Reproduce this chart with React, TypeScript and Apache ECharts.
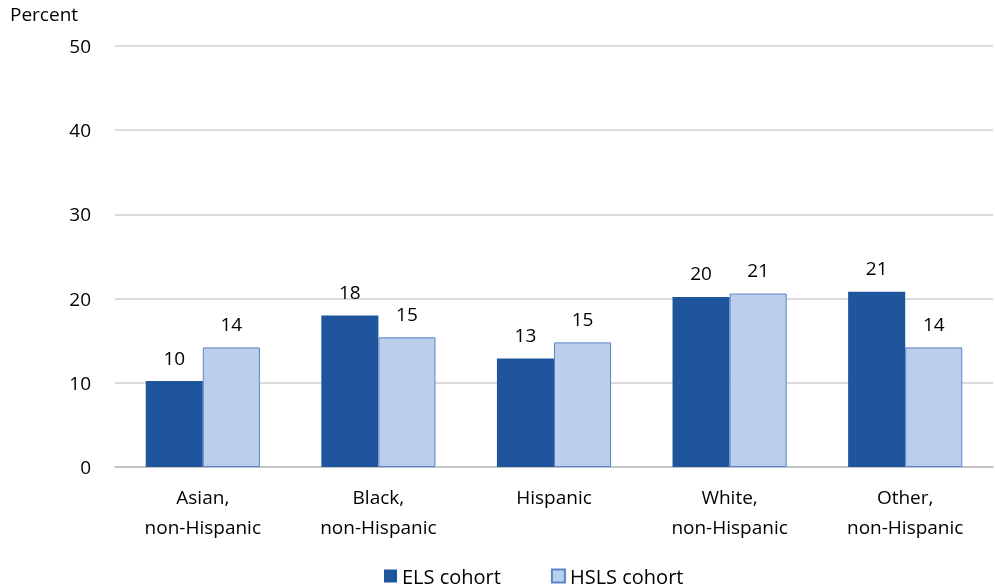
import React, { useEffect, useRef } from "react";
import * as echarts from "echarts";

const categories = [
  "Asian,\nnon-Hispanic",
  "Black,\nnon-Hispanic",
  "Hispanic",
  "White,\nnon-Hispanic",
  "Other,\nnon-Hispanic",
];
const elsValues = [10.2, 18.0, 12.9, 20.2, 20.8];
const hslsValues = [14.2, 15.4, 14.8, 20.6, 14.2];
const FONT = "'Open Sans', 'Noto Sans', sans-serif";

export default function App() {
  const ref = useRef<HTMLDivElement>(null);
  useEffect(() => {
    if (!ref.current) return;
    const chart = echarts.init(ref.current, null, { renderer: "svg" });
    const labelCfg = {
      show: true,
      position: "top" as const,
      distance: 14,
      color: "#000",
      fontSize: 19,
      fontFamily: FONT,
      formatter: (p: any) => String(Math.round(p.value)),
    };
    chart.setOption({
      animation: false,
      textStyle: { fontFamily: FONT },
      graphic: [
        {
          type: "text",
          left: 10,
          top: 4,
          style: { text: "Percent", fontSize: 19, fontFamily: FONT, fill: "#000" },
        },
      ],
      legend: {
        bottom: 2,
        left: 384,
        padding: 0,
        icon: "rect",
        itemWidth: 13,
        itemHeight: 13,
        itemGap: 50,
        textStyle: { fontSize: 20, fontFamily: FONT, color: "#000" },
        data: ["ELS cohort", "HSLS cohort"],
      },
      grid: { left: 115, right: 2, top: 46, bottom: 121 },
      xAxis: {
        type: "category",
        data: categories,
        axisTick: { show: false },
        axisLine: { lineStyle: { color: "#bfbfbf", width: 1.5 } },
        axisLabel: {
          color: "#000",
          fontSize: 19,
          fontFamily: FONT,
          lineHeight: 30,
          margin: 15,
          interval: 0,
        },
      },
      yAxis: {
        type: "value",
        min: 0,
        max: 50,
        interval: 10,
        axisLabel: { color: "#000", fontSize: 19, fontFamily: FONT, margin: 24 },
        splitLine: { lineStyle: { color: "#cfcfcf", width: 1.5 } },
        axisLine: { show: false },
        axisTick: { show: false },
      },
      series: [
        {
          name: "ELS cohort",
          type: "bar",
          data: elsValues,
          barGap: "0%",
          barCategoryGap: "35%",
          itemStyle: { color: "#1F559D" },
          label: labelCfg,
        },
        {
          name: "HSLS cohort",
          type: "bar",
          data: hslsValues,
          itemStyle: { color: "#BBCEEB", borderColor: "#5A85C5", borderWidth: 1 },
          label: labelCfg,
        },
      ],
    });
    return () => chart.dispose();
  }, []);
  return (
    <div
      ref={ref}
      style={{ position: "fixed", left: 0, top: 0, width: 995, height: 588 }}
    />
  );
}
